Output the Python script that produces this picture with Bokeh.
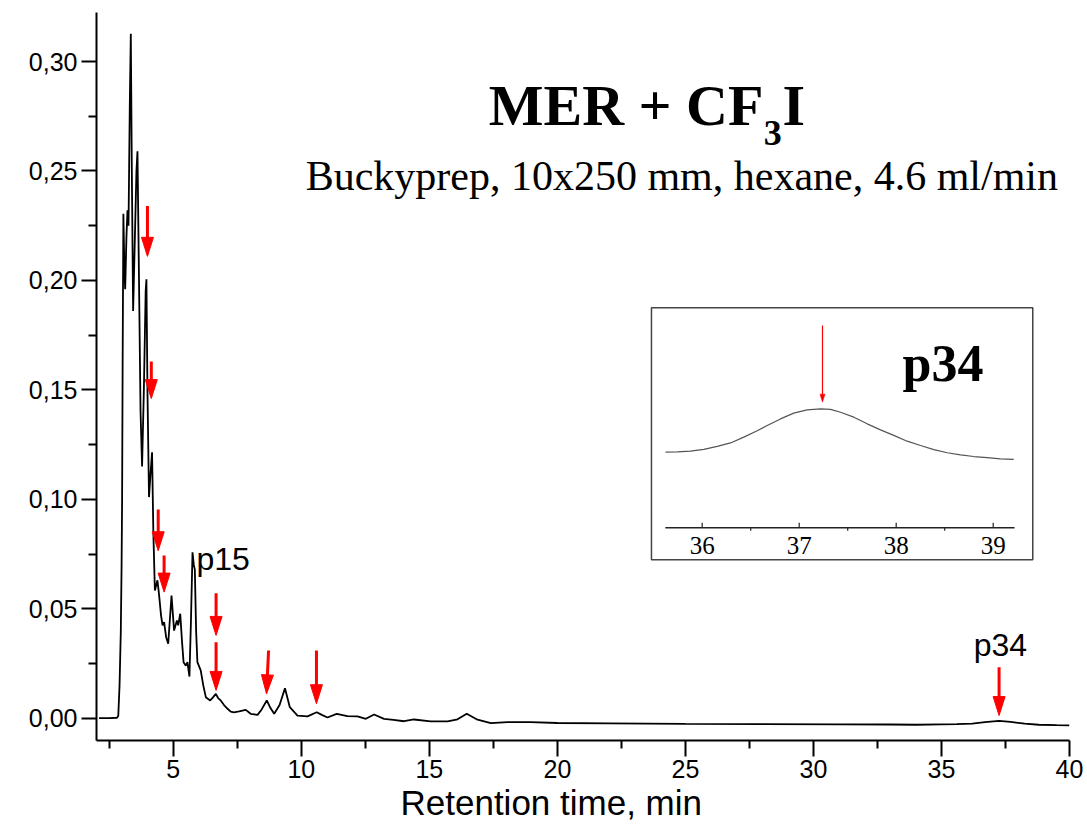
import numpy as np
from bokeh.plotting import figure
from bokeh.models import Range1d, FixedTicker, Title
from bokeh.core.properties import value
from bokeh.embed import file_html
from bokeh.resources import INLINE

# ---------------- data ----------------
time_min = [2.10, 2.50, 2.80, 2.85, 2.90, 2.95, 2.98, 3.00, 3.02, 3.05, 3.09, 3.12, 3.17, 3.21,
            3.25, 3.30, 3.34, 3.38, 3.43, 3.50, 3.56, 3.60, 3.66, 3.72, 3.78, 3.85, 3.92, 3.95,
            3.99, 4.05, 4.10, 4.17, 4.22, 4.28, 4.38, 4.44, 4.52, 4.58, 4.64, 4.72, 4.80, 4.93,
            5.03, 5.14, 5.19, 5.27, 5.34, 5.40, 5.49, 5.55, 5.63, 5.69, 5.75, 5.80, 5.84, 5.89,
            5.94, 6.07, 6.17, 6.27, 6.44, 6.55, 6.66, 6.75, 6.85, 6.98, 7.12, 7.24, 7.37, 7.57,
            7.83, 8.02, 8.29, 8.45, 8.65, 8.80, 8.94, 9.15, 9.36, 9.55, 9.85, 10.24, 10.60, 10.80,
            11.02, 11.38, 11.80, 12.19, 12.52, 12.84, 13.23, 13.60, 14.01, 14.40, 15.05, 15.71,
            16.10, 16.46, 16.88, 17.40, 18.05, 18.96, 20.00, 22.00, 25.00, 28.00, 31.00, 33.00,
            34.00, 35.00, 35.60, 36.20, 36.70, 37.25, 37.70, 38.25, 38.80, 39.50, 40.00]
absorbance = [0.0000, 0.0000, 0.0002, 0.0010, 0.0150, 0.0400, 0.0700, 0.1000, 0.1600, 0.2305,
              0.2050, 0.1960, 0.2200, 0.2320, 0.2250, 0.2800, 0.3127, 0.2500, 0.1860, 0.2200,
              0.2500, 0.2590, 0.2000, 0.1400, 0.1150, 0.1500, 0.1950, 0.2005, 0.1500, 0.1010,
              0.1100, 0.1215, 0.0850, 0.0583, 0.0630, 0.0568, 0.0470, 0.0424, 0.0439, 0.0370,
              0.0340, 0.0560, 0.0400, 0.0446, 0.0424, 0.0477, 0.0350, 0.0256, 0.0240, 0.0256,
              0.0190, 0.0450, 0.0758, 0.0700, 0.0680, 0.0400, 0.0256, 0.0218, 0.0150, 0.0096,
              0.0081, 0.0095, 0.0111, 0.0092, 0.0081, 0.0060, 0.0043, 0.0030, 0.0027, 0.0031,
              0.0038, 0.0020, 0.0015, 0.0040, 0.0081, 0.0045, 0.0020, 0.0060, 0.0137, 0.0050,
              0.0012, 0.0008, 0.0027, 0.0015, 0.0003, 0.0020, 0.0009, 0.0008, -0.0003, 0.0017,
              -0.0003, -0.0008, -0.0014, -0.0006, -0.0015, -0.0015, -0.0005, 0.0020, -0.0007,
              -0.0023, -0.0018, -0.0018, -0.0022, -0.0024, -0.0026, -0.0027, -0.0028, -0.0029,
              -0.0030, -0.0028, -0.0027, -0.0025, -0.0018, -0.0012, -0.0017, -0.0025, -0.0030,
              -0.0032, -0.0033]

inset_time = [35.622, 35.742, 35.879, 36.017, 36.155, 36.292, 36.429, 36.567, 36.670, 36.807,
              36.944, 37.082, 37.220, 37.323, 37.426, 37.563, 37.701, 37.838, 37.975, 38.113,
              38.251, 38.388, 38.526, 38.663, 38.800, 38.938, 39.075, 39.212]
inset_abs = [-0.00270, -0.00269, -0.00266, -0.00260, -0.00250, -0.00238, -0.00218, -0.00196,
             -0.00178, -0.00155, -0.00135, -0.00124, -0.00120, -0.00122, -0.00132, -0.00149,
             -0.00172, -0.00193, -0.00212, -0.00232, -0.00247, -0.00261, -0.00272, -0.00279,
             -0.00285, -0.00289, -0.00293, -0.00295]

x_ticks = [5, 10, 15, 20, 25, 30, 35, 40]
x_minor = [2.5, 7.5, 12.5, 17.5, 22.5, 27.5, 32.5, 37.5]
y_ticks = [0.0, 0.05, 0.10, 0.15, 0.20, 0.25, 0.30]
y_tick_labels = ["0,00", "0,05", "0,10", "0,15", "0,20", "0,25", "0,30"]
y_minor = [0.025, 0.075, 0.125, 0.175, 0.225, 0.275]
inset_ticks = [36, 37, 38, 39]
inset_tick_labels = ["36", "37", "38", "39"]
inset_minor = [36.5, 37.5, 38.5]

# arrows marking collected fractions (tail -> tip)
arrow_x_tail = [3.99, 4.14, 4.41, 4.64, 6.67, 6.67, 8.72, 10.59, 37.25]
arrow_x_tip = [3.99, 4.14, 4.41, 4.64, 6.67, 6.67, 8.64, 10.59, 37.25]
arrow_y_tail = [0.234, 0.163, 0.0953, 0.0743, 0.0571, 0.0347, 0.0309, 0.0309, 0.0233]
arrow_y_tip = [0.211, 0.146, 0.0765, 0.0576, 0.0378, 0.0127, 0.0111, 0.0066, 0.0012]

inset_arrow_x = [37.24]
inset_arrow_y_tail = [0.00168]
inset_arrow_y_tip = [-0.00097]

# ---------------- figure ----------------
X0, X1 = 2.0, 40.0
Y0, Y1 = -0.0102, 0.3224
W, H = 1087, 827
BL, BR, BT, BB = 96, 18, 12, 87
FW, FH = W - BL - BR, H - BT - BB

p = figure(width=W, height=H, output_backend="svg", toolbar_location=None,
           x_range=Range1d(X0, X1), y_range=Range1d(Y0, Y1),
           min_border_left=BL, min_border_right=BR, min_border_top=BT, min_border_bottom=BB)
p.outline_line_color = None
p.xgrid.visible = False
p.ygrid.visible = False
p.background_fill_color = "white"

IX0, IX1 = 29.7557, 39.7866
IY0, IY1 = -0.012665, 0.012497
p.extra_x_ranges = {"inset": Range1d(IX0, IX1)}
p.extra_y_ranges = {"inset": Range1d(IY0, IY1)}

for ax in (p.xaxis[0], p.yaxis[0]):
    ax.axis_line_width = 2
    ax.major_tick_line_width = 2
    ax.minor_tick_line_width = 2
    ax.major_tick_in = 0
    ax.minor_tick_in = 0
    ax.major_label_text_font = "Liberation Sans"
    ax.major_label_text_font_size = "25px"
    ax.major_label_text_color = "black"

p.xaxis.ticker = FixedTicker(ticks=x_ticks, minor_ticks=x_minor)
p.yaxis.ticker = FixedTicker(ticks=y_ticks, minor_ticks=y_minor)
p.yaxis.major_label_overrides = {t: l for t, l in zip(y_ticks, y_tick_labels)}
p.xaxis.major_tick_out = 16
p.xaxis.minor_tick_out = 8
p.yaxis.major_tick_out = 15
p.yaxis.minor_tick_out = 8
p.xaxis.major_label_standoff = 3
p.yaxis.major_label_standoff = 4

# x-axis title (placed left of centre, as in the original)
p.add_layout(Title(text="Retention time, min", align="left", offset=304,
                   text_font="Liberation Sans", text_font_size="35px",
                   text_font_style="normal", text_color="black", standoff=0), "below")

sx = FW / (X1 - X0)
sy = FH / (Y1 - Y0)
isx = FW / (IX1 - IX0)
isy = FH / (IY1 - IY0)
LIFT = 0.34  # rendered baseline sits ~0.34 em below the anchor


def lift(fs, scale):
    return LIFT * fs / scale


# chromatogram
p.line(time_min, absorbance, line_color="black", line_width=1.8)


def arrow_geoms(xt, yt, xs, ys, sxx, syy, head_len, head_w):
    seg = ([], [], [], [])
    heads_x, heads_y = [], []
    for a, b, c, d in zip(xs, ys, xt, yt):
        px0, py0, px1, py1 = a * sxx, b * syy, c * sxx, d * syy
        L = np.hypot(px1 - px0, py1 - py0)
        ux, uy = (px1 - px0) / L, (py1 - py0) / L
        bx, by = px1 - ux * head_len, py1 - uy * head_len
        nx, ny = -uy, ux
        seg[0].append(a); seg[1].append(b)
        seg[2].append((bx + ux * 2) / sxx); seg[3].append((by + uy * 2) / syy)
        heads_x.append([c, (bx + nx * head_w / 2) / sxx, (bx - nx * head_w / 2) / sxx])
        heads_y.append([d, (by + ny * head_w / 2) / syy, (by - ny * head_w / 2) / syy])
    return seg, heads_x, heads_y


seg, hx, hy = arrow_geoms(arrow_x_tip, arrow_y_tip, arrow_x_tail, arrow_y_tail, sx, sy, 19, 12)
p.segment(seg[0], seg[1], seg[2], seg[3], line_color="red", line_width=3)
p.patches(hx, hy, fill_color="red", line_color="red", line_width=1)

# peak labels
p.text([5.905], [0.0679 + lift(32, sy)], text=["p15"], text_font=value("Liberation Sans"),
       text_font_size="32px", text_align="left", text_baseline="alphabetic", text_color="black")
p.text([37.30], [0.0286 + lift(32, sy)], text=["p34"], text_font=value("Liberation Sans"),
       text_font_size="32px", text_align="center", text_baseline="alphabetic", text_color="black")

# title
p.text([28.045], [0.2708 + lift(58, sy)], text=["MER + CF"], text_font=value("Liberation Serif"),
       text_font_style="bold", text_font_size="58px", text_align="right",
       text_baseline="alphabetic", text_color="black")
p.text([28.06], [0.2617 + lift(36, sy)], text=["3"], text_font=value("Liberation Serif"),
       text_font_style="bold", text_font_size="36px", text_align="left",
       text_baseline="alphabetic", text_color="black")
p.text([28.787], [0.2708 + lift(58, sy)], text=["I"], text_font=value("Liberation Serif"),
       text_font_style="bold", text_font_size="58px", text_align="left",
       text_baseline="alphabetic", text_color="black")
p.text([24.86], [0.2411 + lift(42, sy)], text=["Buckyprep, 10x250 mm, hexane, 4.6 ml/min"],
       text_font=value("Liberation Serif"), text_font_size="42px", text_align="center",
       text_baseline="alphabetic", text_color="black")

# ---------------- inset ----------------
box_l, box_r, box_b, box_t = 35.477, 39.408, -0.006419, 0.002291
axis_y = -0.005313
ax_l, ax_r = 35.62, 39.22
p.quad(left=[box_l], right=[box_r], bottom=[box_b], top=[box_t], fill_color="white",
       line_color="#444444", line_width=1.5, x_range_name="inset", y_range_name="inset")
p.segment([ax_l], [axis_y], [ax_r], [axis_y], line_color="#222222", line_width=1.5,
          x_range_name="inset", y_range_name="inset")
p.segment(inset_ticks, [axis_y] * len(inset_ticks), inset_ticks,
          [axis_y + 5 / isy] * len(inset_ticks), line_color="#222222", line_width=1.2,
          x_range_name="inset", y_range_name="inset")
p.segment(inset_minor, [axis_y] * len(inset_minor), inset_minor,
          [axis_y - 3 / isy] * len(inset_minor), line_color="#222222", line_width=1.2,
          x_range_name="inset", y_range_name="inset")
p.text(inset_ticks, [axis_y - 26 / isy + lift(25, isy)] * len(inset_ticks), text=inset_tick_labels,
       text_font=value("Liberation Serif"), text_font_size="25px", text_align="center",
       text_baseline="alphabetic", text_color="black", x_range_name="inset", y_range_name="inset")
p.line(inset_time, inset_abs, line_color="#555555", line_width=1.2,
       x_range_name="inset", y_range_name="inset")
iseg, ihx, ihy = arrow_geoms(inset_arrow_x, inset_arrow_y_tip, inset_arrow_x, inset_arrow_y_tail,
                             isx, isy, 8, 5)
p.segment(iseg[0], iseg[1], iseg[2], iseg[3], line_color="red", line_width=1.2,
          x_range_name="inset", y_range_name="inset")
p.patches(ihx, ihy, fill_color="red", line_color="red", line_width=0.5,
          x_range_name="inset", y_range_name="inset")
p.text([38.065], [-0.000256 + lift(52, isy)], text=["p34"], text_font=value("Liberation Serif"),
       text_font_style="bold", text_font_size="52px", text_align="left",
       text_baseline="alphabetic", text_color="black", x_range_name="inset", y_range_name="inset")

open("out.html", "w").write(file_html(p, INLINE))
